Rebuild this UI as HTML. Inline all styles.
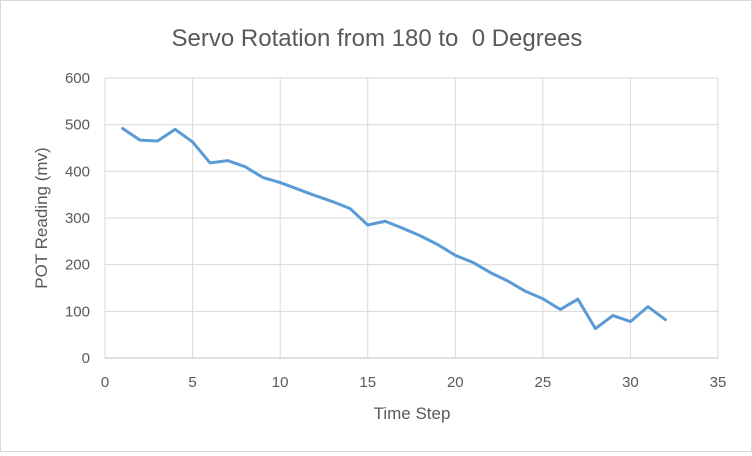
<!DOCTYPE html>
<html><head><meta charset="utf-8"><style>
body{margin:0;background:#fff;font-family:"Liberation Sans",sans-serif}
#wrap{position:relative;width:752px;height:452px;box-sizing:border-box;border:1px solid #d9d9d9;background:#fff}
</style></head><body>
<div id="wrap">
<svg id="chart" width="750" height="450"></svg>
</div>
<script>
const xTicks=[0,5,10,15,20,25,30,35];
const yTicks=[0,100,200,300,400,500,600];
const timeSteps=[1,2,3,4,5,6,7,8,9,10,11,12,13,14,15,16,17,18,19,20,21,22,23,24,25,26,27,28,29,30,31,32];
const potReadings=[492,467,465,490,463,418,423,410,387,376,362,348,335,320,285,293,278,262,243,220,205,183,165,143,127,104,126,63,91,78,110,82];
const NS="http://www.w3.org/2000/svg";
const svg=document.getElementById('chart');
const L=104,R=717,T=77,B=357;
const xs=v=>L+(v-0)/(35-0)*(R-L);
const ys=v=>B-(v-0)/(600-0)*(B-T);
function mk(t,a){const e=document.createElementNS(NS,t);for(const k in a)e.setAttribute(k,a[k]);svg.appendChild(e);return e;}
xTicks.forEach(v=>{const l=mk('line',{x1:xs(v),x2:xs(v),y1:T,y2:B,stroke:'#d9d9d9','stroke-width':1});


const t=mk('text',{x:xs(v),y:B+29,'text-anchor':'middle','font-size':15,fill:'#595959'});t.textContent=v;

});
yTicks.forEach(v=>{const l=mk('line',{x1:L,x2:R,y1:ys(v),y2:ys(v),stroke:v===0?'#bfbfbf':'#d9d9d9','stroke-width':1});


const t=mk('text',{x:L-15,y:ys(v)+5,'text-anchor':'end','font-size':15,fill:'#595959'});t.textContent=v;

});
const pts=timeSteps.map((x,i)=>xs(x)+','+ys(potReadings[i])).join(' ');
const p=mk('polyline',{points:pts,fill:'none',stroke:'#5b9bd5','stroke-width':3,'stroke-linejoin':'round','stroke-linecap':'round'});


const title=mk('text',{x:376,y:45,'text-anchor':'middle','font-size':24,fill:'#595959',style:'white-space:pre'});title.textContent='Servo Rotation from 180 to  0 Degrees';


const xt=mk('text',{x:411,y:418,'text-anchor':'middle','font-size':17,fill:'#595959'});xt.textContent='Time Step';


const yt=mk('text',{x:0,y:0,'text-anchor':'middle','font-size':17,fill:'#595959',transform:'translate(46,217) rotate(-90)'});yt.textContent='POT Reading (mv)';


</script>
</body></html>
